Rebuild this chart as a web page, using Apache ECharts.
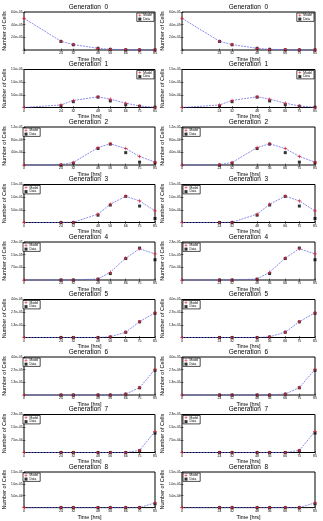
<!DOCTYPE html>
<html>
<head>
<meta charset="utf-8">
<script src="https://cdn.jsdelivr.net/npm/echarts@6/dist/echarts.min.js"></script>
<style>
  html, body { margin: 0; padding: 0; background: #fff; }
  #chart { width: 323px; height: 521px; }
</style>
</head>
<body>
<div id="chart"></div>
<script>
// sample times (hrs) and generation labels
const times = [0, 24, 32, 48, 56, 66, 75, 85];
const generations = [0, 1, 2, 3, 4, 5, 6, 7, 8];

// model cell counts per generation
const modelCells = [
  [5.0e5, 1.38e5, 8.5e4, 2.7e4, 1.1e4, 5e3, 2e3, 1e3],
  [0, 1.0e4, 2.8e4, 4.2e4, 3.3e4, 1.7e4, 6e3, 1e3],
  [0, 1e3, 8e3, 5.5e4, 6.7e4, 5.2e4, 2.7e4, 9e3],
  [0, 0, 1e3, 3.3e4, 7.2e4, 1.04e5, 8.5e4, 4.6e4],
  [0, 0, 0, 6e3, 4.6e4, 1.3e5, 1.85e5, 1.55e5],
  [0, 0, 0, 0, 7e3, 5.6e4, 1.67e5, 2.6e5],
  [0, 0, 0, 0, 0, 1e4, 7.8e4, 2.7e5],
  [0, 0, 0, 0, 0, 0, 1.2e4, 1.25e5],
  [0, 0, 0, 0, 0, 0, 0, 2e4]
];

// measured cell counts per generation
const dataCells = [
  [null, 1.35e5, 8.3e4, 2.6e4, 1.0e4, 4e3, 2e3, 1e3],
  [null, 6e3, 2.3e4, 4.1e4, 2.6e4, 1.1e4, 5e3, 1e3],
  [null, 0, 6e3, 5.2e4, 6.6e4, 3.9e4, 9e3, 7e3],
  [null, 0, 0, 2.9e4, 6.9e4, 1.03e5, 6.5e4, 1.6e4],
  [null, 0, 0, 5e3, 3.8e4, 1.27e5, 1.89e5, 1.2e5],
  [null, 0, 0, 0, 6e3, 5.5e4, 1.65e5, 2.55e5],
  [null, 0, 0, 0, 0, 9e3, 7.6e4, 2.6e5],
  [null, 0, 0, 0, 0, 0, 1.1e4, 1.15e5],
  [null, 0, 0, 0, 0, 0, 0, 1.6e4]
];

// y-axis upper limits per generation (three ticks above zero)
const yMax = [6e5, 1.5e5, 1.2e5, 1.5e5, 2.25e5, 4e5, 4e5, 2.25e5, 1.5e5];

const FONT = 'Liberation Sans, Arial, sans-serif';
const colLeft = [22, 182];
const plotW = 133;
const plotH = 38;

function fmt(v) {
  if (v === 0) return '';
  return v.toExponential(1).replace(/e([+-])(\d)$/, 'e$10$2');
}

const plusSymbol = 'path://M4,0H6V4H10V6H6V10H4V6H0V4H4Z';

const grid = [], xAxis = [], yAxis = [], series = [], title = [], legend = [];

for (let c = 0; c < 2; c++) {
  generations.forEach((g, gi) => {
    const idx = c * 9 + gi;
    const titleY = 7 + 57.5 * gi;
    const top = titleY + 5;
    const left = colLeft[c];
    grid.push({
      left: left, top: top, width: plotW, height: plotH,
      show: true, borderColor: '#000', borderWidth: 1, backgroundColor: '#fff'
    });
    title.push({
      text: 'Generation  ' + g,
      left: left + plotW / 2, top: titleY - 3.5, textAlign: 'center', padding: 0,
      textStyle: { fontSize: 6.5, fontWeight: 'normal', color: '#000', fontFamily: FONT }
    });
    // bottom x axis with labels
    xAxis.push({
      gridIndex: idx, type: 'value', min: 0, max: 85,
      name: 'Time [hrs]', nameLocation: 'middle', nameGap: 6,
      nameTextStyle: { fontSize: 5.5, color: '#000', fontFamily: FONT },
      axisLine: { show: false },
      axisTick: { inside: true, length: 1.5, customValues: times, lineStyle: { color: '#000', width: 0.5 } },
      axisLabel: { customValues: times, fontSize: 3.5, margin: 1.5, color: '#000', fontFamily: FONT },
      splitLine: { show: false }
    });
    // top x axis, ticks only
    xAxis.push({
      gridIndex: idx, type: 'value', min: 0, max: 85, position: 'top',
      axisLine: { show: false },
      axisTick: { inside: true, length: 1.5, customValues: times, lineStyle: { color: '#000', width: 0.5 } },
      axisLabel: { show: false },
      splitLine: { show: false }
    });
    yAxis.push({
      gridIndex: idx, type: 'value', min: 0, max: yMax[gi], interval: yMax[gi] / 3,
      name: 'Number of Cells', nameLocation: 'middle', nameGap: 13,
      nameTextStyle: { fontSize: 5.5, color: '#000', fontFamily: FONT },
      axisLine: { show: false },
      axisTick: { show: true, inside: true, length: 1.5, lineStyle: { color: '#000', width: 0.5 } },
      axisLabel: { fontSize: 3.2, margin: 1.5, color: '#000', fontFamily: FONT, formatter: fmt },
      splitLine: { show: false }
    });
    yAxis.push({
      gridIndex: idx, type: 'value', min: 0, max: yMax[gi], interval: yMax[gi] / 3, position: 'right',
      axisLine: { show: false },
      axisTick: { show: true, inside: true, length: 1.5, lineStyle: { color: '#000', width: 0.5 } },
      axisLabel: { show: false },
      splitLine: { show: false }
    });
    series.push({
      name: 'Model', type: 'line', xAxisIndex: idx * 2, yAxisIndex: idx * 2,
      data: times.map((t, i) => [t, modelCells[gi][i]]),
      symbol: plusSymbol, symbolSize: 3.5, clip: false,
      itemStyle: { color: '#e0202a' },
      lineStyle: { color: '#5a5ae6', width: 0.7, type: [2, 1] },
      animation: false
    });
    series.push({
      name: 'Data', type: 'scatter', xAxisIndex: idx * 2, yAxisIndex: idx * 2,
      data: times.map((t, i) => [t, dataCells[gi][i]]).filter(p => p[1] !== null),
      symbol: 'rect', symbolSize: 3, clip: false,
      itemStyle: { color: '#000' },
      animation: false
    });
    const leg = {
      data: [{ name: 'Model', icon: plusSymbol }, { name: 'Data', icon: 'rect' }],
      orient: 'vertical', top: top + 1,
      itemWidth: 3, itemHeight: 3, itemGap: 0.8, padding: [0.8, 2, 0.8, 1.5],
      borderColor: '#000', borderWidth: 0.7, backgroundColor: '#fff',
      selectedMode: false,
      textStyle: { fontSize: 3.2, color: '#000', fontFamily: FONT, padding: [0, 0, 0, -3] }
    };
    if (gi < 2) leg.right = 323 - (left + plotW) + 1;
    else leg.left = left + 1;
    legend.push(leg);
  });
}

const chart = echarts.init(document.getElementById('chart'), null, { renderer: 'canvas' });
chart.setOption({
  backgroundColor: '#fff',
  animation: false,
  title: title,
  legend: legend,
  grid: grid,
  xAxis: xAxis,
  yAxis: yAxis,
  series: series
});
</script>
</body>
</html>
